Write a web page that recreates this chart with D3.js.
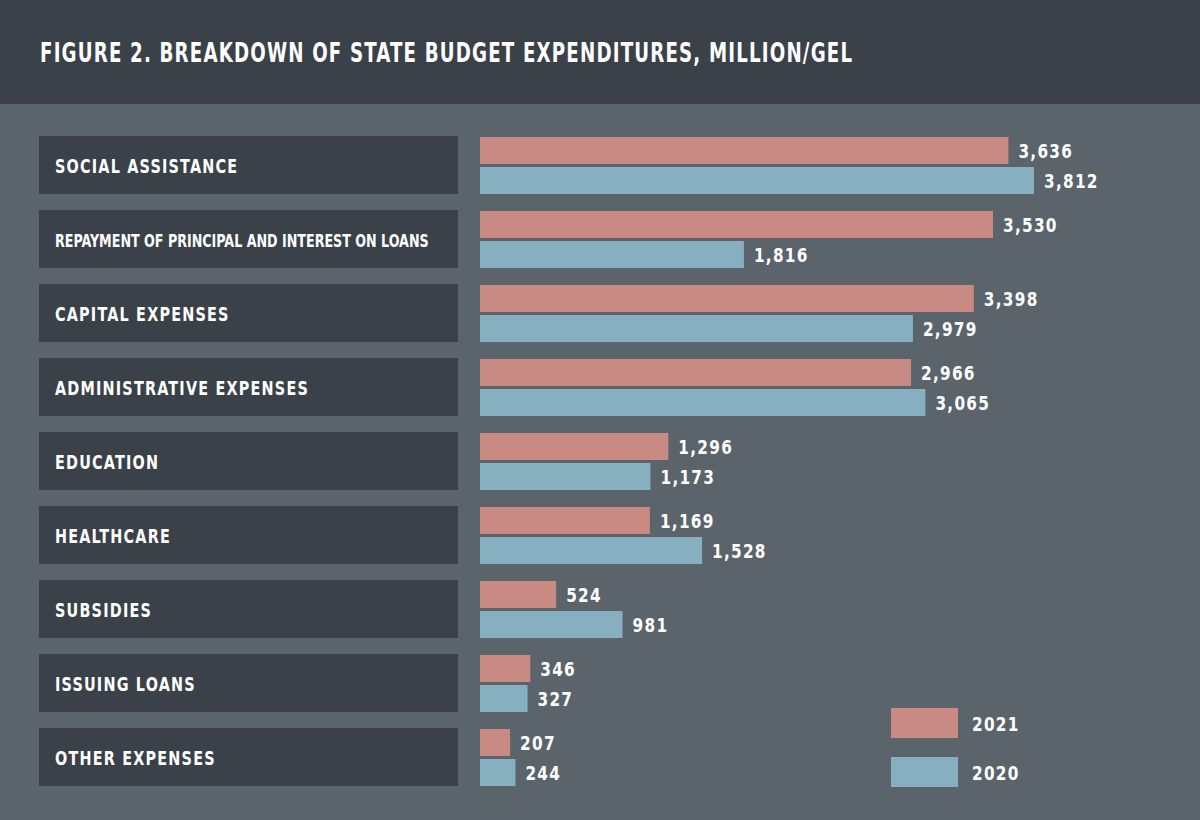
<!DOCTYPE html>
<html><head><meta charset="utf-8">
<script src="https://cdn.jsdelivr.net/npm/d3@7"></script>
<style>body{margin:0;background:#5b636b}text{font-family:"DejaVu Sans Condensed","DejaVu Sans",sans-serif;font-stretch:condensed;font-weight:bold;fill:#fff}</style>
</head><body><svg id="c" width="1200" height="820"></svg>
<script>
const categories=["SOCIAL ASSISTANCE","REPAYMENT OF PRINCIPAL AND INTEREST ON LOANS","CAPITAL EXPENSES","ADMINISTRATIVE EXPENSES","EDUCATION","HEALTHCARE","SUBSIDIES","ISSUING LOANS","OTHER EXPENSES"];
const v2021=[3636,3530,3398,2966,1296,1169,524,346,207];
const v2020=[3812,1816,2979,3065,1173,1528,981,327,244];
const years=["2021","2020"];
const colors=["#c98a84","#86afc0"];
const svg=d3.select("#c");
svg.append("rect").attr("width",1200).attr("height",104).attr("fill","#3a4148");
svg.append("rect").attr("y",104).attr("width",1200).attr("height",716).attr("fill","#5b636b");
svg.append("text").attr("transform","translate(40,62) scale(0.78,1)").attr("font-size",26).attr("letter-spacing",1.5).text("FIGURE 2. BREAKDOWN OF STATE BUDGET EXPENDITURES, MILLION/GEL");
const x=d3.scaleLinear().domain([0,3812]).range([480,1034]);
const y=d3.scaleBand().domain(categories).range([136,786]).paddingInner(16/74).paddingOuter(0);
const g=svg.selectAll("g.row").data(categories).join("g");
g.append("rect").attr("x",39).attr("width",419).attr("y",d=>y(d)).attr("height",y.bandwidth()).attr("fill","#3a4148");
g.append("text").attr("transform",d=>`translate(55,${y(d)+37}) scale(${d.length>30?0.83:0.8},1)`).attr("font-size",d=>d.length>30?17:20).attr("letter-spacing",d=>d.length>30?0:1.5).text(d=>d);
[v2021,v2020].forEach((vals,k)=>{
  g.append("rect").attr("x",x(0)).attr("y",d=>y(d)+1+k*30).attr("height",27).attr("width",(d,i)=>x(vals[i])-x(0)).attr("fill",colors[k]);
  g.append("text").attr("transform",(d,i)=>`translate(${x(vals[i])+10},${y(d)+22+k*30}) scale(0.85,1)`).attr("font-size",20).attr("letter-spacing",1.5).text((d,i)=>d3.format(",")(vals[i]));
});
years.forEach((yr,k)=>{
  svg.append("rect").attr("x",891).attr("y",708+k*49).attr("width",67).attr("height",30).attr("fill",colors[k]);
  svg.append("text").attr("transform",`translate(972,${731+k*49}) scale(0.85,1)`).attr("font-size",20).attr("letter-spacing",1.5).text(yr);
});
</script></body></html>
